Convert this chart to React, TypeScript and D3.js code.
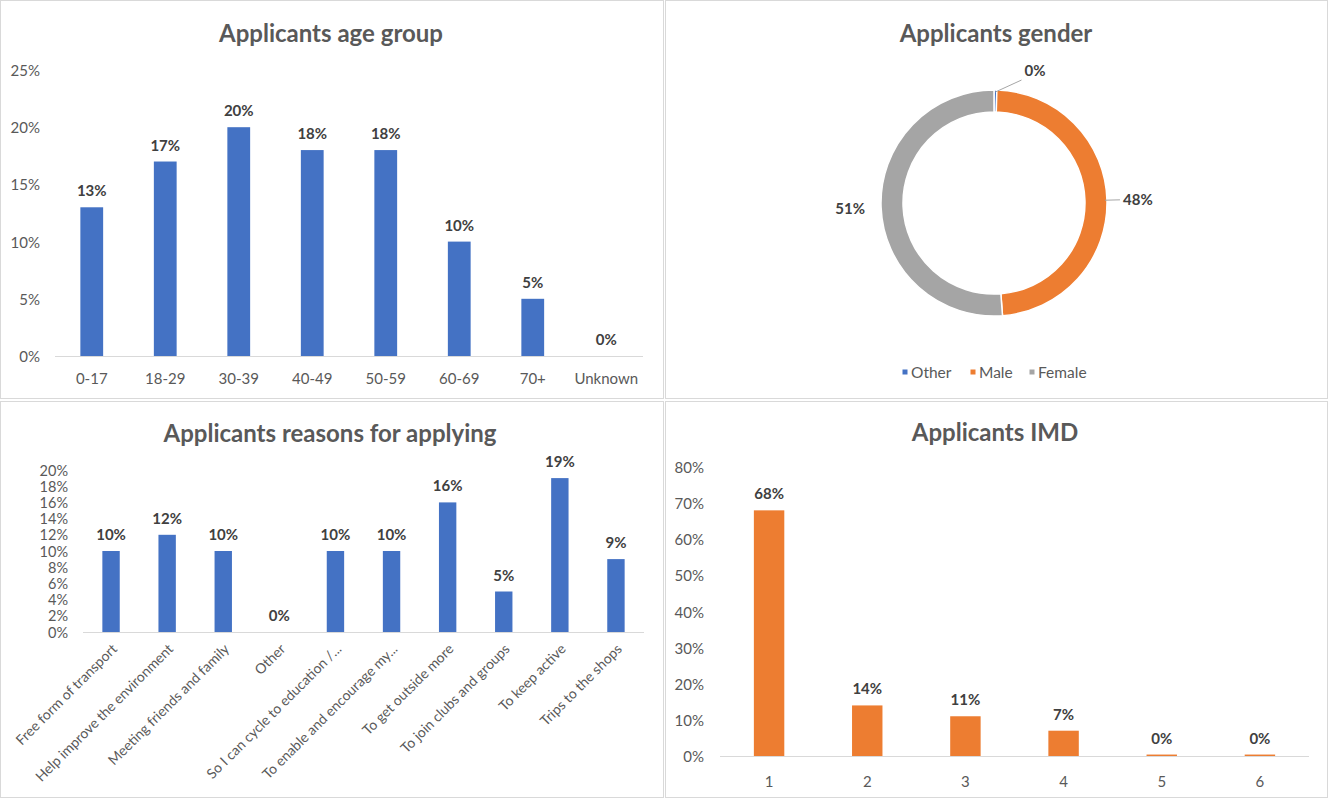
import * as d3 from "d3";

const FONT = "Lato, 'Open Sans', sans-serif";
const TEXT = "#595959";
const LABEL = "#404040";
const BORDER = "#d9d9d9";
const BLUE = "#4472c4";
const ORANGE = "#ed7d31";
const GREY = "#a5a5a5";

// age chart
const AGE_GROUPS = ["0-17", "18-29", "30-39", "40-49", "50-59", "60-69", "70+", "Unknown"];
const AGE_SHARE = [13, 17, 20, 18, 18, 10, 5, 0];
const AGE_TICKS = [0, 5, 10, 15, 20, 25];

// gender donut
const GENDERS = ["Other", "Male", "Female"];
const GENDER_SHARE = [0.4, 48.4, 51.2];
const GENDER_COLORS = [BLUE, ORANGE, GREY];
const GENDER_LEADER = [true, true, false];

// reasons chart
const REASONS = [
  "Free form of transport",
  "Help improve the environment",
  "Meeting friends and family",
  "Other",
  "So I can cycle to education /...",
  "To enable and encourage my...",
  "To get outside more",
  "To join clubs and groups",
  "To keep active",
  "Trips to the shops",
];
const REASON_SHARE = [10, 12, 10, 0, 10, 10, 16, 5, 19, 9];
const REASON_TICKS = [0, 2, 4, 6, 8, 10, 12, 14, 16, 18, 20];

// IMD chart
const IMD_GROUPS = ["1", "2", "3", "4", "5", "6"];
const IMD_SHARE = [68, 14, 11, 7, 0.4, 0.4];
const IMD_TICKS = [0, 10, 20, 30, 40, 50, 60, 70, 80];

const TITLE_SIZE = 24;
const TICK_SIZE = 15;
const DATA_SIZE = 15;

type BarPanelProps = {
  title: string;
  titleX: number;
  titleY: number;
  categories: string[];
  values: number[];
  ticks: number[];
  color: string;
  x0: number;
  x1: number;
  yBottom: number;
  yTop: number;
  tickRight: number;
  labelY: number;
  rotate?: boolean;
};

const BarPanel = (p: BarPanelProps) => {
  const xScale = d3.scaleBand().domain(p.categories).range([p.x0, p.x1]).padding(0);
  const yScale = d3
    .scaleLinear()
    .domain([0, p.ticks[p.ticks.length - 1]])
    .range([p.yBottom, p.yTop]);
  const barW = xScale.bandwidth() * 0.31;

  return (
    <g>
      <text
        x={p.titleX}
        y={p.titleY}
        textAnchor="middle"
        dominantBaseline="central"
        fontSize={TITLE_SIZE}
        fontWeight="bold"
        fill={TEXT}
      >
        {p.title}
      </text>
      {p.ticks.map((t) => (
        <text
          key={t}
          x={p.tickRight}
          y={yScale(t)}
          textAnchor="end"
          dominantBaseline="central"
          fontSize={p.rotate ? 14.5 : TICK_SIZE}
          fill={TEXT}
        >
          {t}%
        </text>
      ))}
      <line x1={p.x0} x2={p.x1} y1={p.yBottom + 0.5} y2={p.yBottom + 0.5} stroke={BORDER} />
      {p.values.map((v, i) => {
        const cx = (xScale(p.categories[i]) ?? 0) + xScale.bandwidth() / 2;
        const top = yScale(v);
        return (
          <g key={i}>
            <rect x={cx - barW / 2} y={top} width={barW} height={p.yBottom - top} fill={p.color} />
            <text
              x={cx}
              y={top - 17}
              textAnchor="middle"
              dominantBaseline="central"
              fontSize={DATA_SIZE}
              fontWeight="bold"
              fill={LABEL}
            >
              {Math.round(v)}%
            </text>
          </g>
        );
      })}
      {p.categories.map((c) => {
        const cx = (xScale(c) ?? 0) + xScale.bandwidth() / 2;
        return p.rotate ? (
          <text
            key={c}
            transform={`translate(${cx + 3},${p.labelY}) rotate(-45)`}
            textAnchor="end"
            dominantBaseline="central"
            fontSize={14}
            fill={TEXT}
          >
            {c}
          </text>
        ) : (
          <text
            key={c}
            x={cx}
            y={p.labelY}
            textAnchor="middle"
            dominantBaseline="central"
            fontSize={TICK_SIZE}
            fill={TEXT}
          >
            {c}
          </text>
        );
      })}
    </g>
  );
};

const Donut = () => {
  const cx = 994;
  const cy = 203;
  const outer = 113;
  const inner = 91;
  const pie = d3
    .pie<number>()
    .sort(null)
    .value((d) => d);
  const arcs = pie(GENDER_SHARE);
  const arc = d3.arc<d3.PieArcDatum<number>>().innerRadius(inner).outerRadius(outer);
  const polar = (a: number, r: number) => [cx + r * Math.sin(a), cy - r * Math.cos(a)];

  const legendX = [905, 973, 1032];

  return (
    <g>
      <text x={996} y={32} textAnchor="middle" dominantBaseline="central" fontSize={TITLE_SIZE} fontWeight="bold" fill={TEXT}>
        Applicants gender
      </text>
      <g transform={`translate(${cx},${cy})`}>
        {arcs.map((a, i) => (
          <path key={i} d={arc(a) ?? ""} fill={GENDER_COLORS[i]} stroke="#fff" strokeWidth={1.5} />
        ))}
      </g>
      {arcs.map((a, i) => {
        const mid = (a.startAngle + a.endAngle) / 2;
        // tiny slice label pushed round so it clears the ring
        const la = Math.max(mid, 0.3);
        const [lx, ly] = polar(la, i === 0 ? 139 : 144);
        const [sx, sy] = polar(mid, outer - 2);
        const [ex, ey] = polar(i === 0 ? 0.22 : la, 126);
        return (
          <g key={i}>
            {GENDER_LEADER[i] && <line x1={sx} y1={sy} x2={ex} y2={ey} stroke="#a6a6a6" strokeWidth={1} />}
            <text x={lx} y={ly} textAnchor="middle" dominantBaseline="central" fontSize={DATA_SIZE} fontWeight="bold" fill={LABEL}>
              {Math.round(GENDER_SHARE[i])}%
            </text>
          </g>
        );
      })}
      {GENDERS.map((g, i) => (
        <g key={g}>
          <rect x={legendX[i] - 2.5} y={369.5} width={5} height={5} fill={GENDER_COLORS[i]} />
          <text x={legendX[i] + 6} y={372} dominantBaseline="central" fontSize={15.5} fill={TEXT}>
            {g}
          </text>
        </g>
      ))}
    </g>
  );
};

export default function App() {
  return (
    <div style={{ position: "absolute", left: 0, top: 0 }}>
      <svg width={1329} height={800} style={{ display: "block", fontFamily: FONT }}>
        <rect width={1329} height={800} fill="#fff" />
        <rect x={0.5} y={0.5} width={663} height={398} fill="none" stroke={BORDER} />
        <rect x={665.5} y={0.5} width={662} height={398} fill="none" stroke={BORDER} />
        <rect x={0.5} y={401.5} width={663} height={396} fill="none" stroke={BORDER} />
        <rect x={665.5} y={401.5} width={662} height={396} fill="none" stroke={BORDER} />
        <BarPanel
          title="Applicants age group"
          titleX={331}
          titleY={32}
          categories={AGE_GROUPS}
          values={AGE_SHARE}
          ticks={AGE_TICKS}
          color={BLUE}
          x0={55}
          x1={643}
          yBottom={356}
          yTop={70}
          tickRight={40}
          labelY={378}
        />
        <Donut />
        <BarPanel
          title="Applicants reasons for applying"
          titleX={330}
          titleY={432}
          categories={REASONS}
          values={REASON_SHARE}
          ticks={REASON_TICKS}
          color={BLUE}
          x0={83}
          x1={644}
          yBottom={632}
          yTop={470}
          tickRight={68}
          labelY={646}
          rotate
        />
        <BarPanel
          title="Applicants IMD"
          titleX={995}
          titleY={431}
          categories={IMD_GROUPS}
          values={IMD_SHARE}
          ticks={IMD_TICKS}
          color={ORANGE}
          x0={720}
          x1={1309}
          yBottom={756}
          yTop={467}
          tickRight={704}
          labelY={781}
        />
      </svg>
    </div>
  );
}
